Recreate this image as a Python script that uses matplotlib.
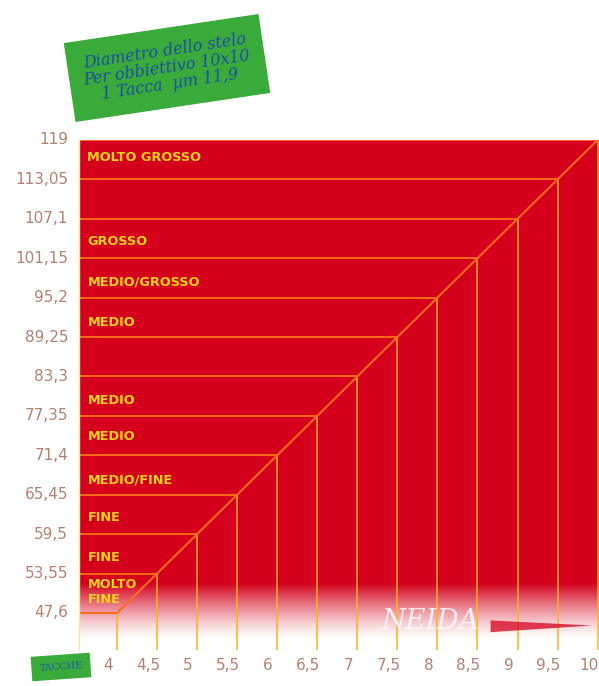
import numpy as np
import matplotlib
matplotlib.use("Agg")
import matplotlib.pyplot as plt
import matplotlib.transforms as mtransforms
from matplotlib.patches import Polygon

# ---- data ----
notches = [4, 4.5, 5, 5.5, 6, 6.5, 7, 7.5, 8, 8.5, 9, 9.5, 10]
notch_labels = ["4", "4,5", "5", "5,5", "6", "6,5", "7", "7,5", "8", "8,5", "9", "9,5", "10"]
microns_per_notch = 11.9
diam_values = [47.6, 53.55, 59.5, 65.45, 71.4, 77.35, 83.3, 89.25, 95.2, 101.15, 107.1, 113.05, 119]
diam_labels = ["47,6", "53,55", "59,5", "65,45", "71,4", "77,35", "83,3", "89,25", "95,2",
               "101,15", "107,1", "113,05", "119"]
class_names = ["MOLTO GROSSO", "GROSSO", "MEDIO/GROSSO", "MEDIO", "MEDIO", "MEDIO",
               "MEDIO/FINE", "FINE", "FINE", "MOLTO\nFINE"]
class_y = [116.3, 103.7, 97.6, 91.5, 79.6, 74.2, 67.6, 62.0, 55.9, 50.7]

# ---- style ----
RED = (0.835, 0.0, 0.11)
HLINE = "#ff6a1a"
VLINE = "#ffb21e"
LABEL_YEL = "#ffd21a"
TICK_COL = "#b5806f"

fig = plt.figure(figsize=(5.99, 6.86), dpi=100)
L, R, T, B = 79, 600, 140, 650
W, H = 599, 686
ax = fig.add_axes([L / W, 1 - B / H, (R - L) / W, (B - T) / H])

xmin, xmax = 3.525, 10.03
ymin, ymax = 42.0, 119.0
ax.set_xlim(xmin, xmax)
ax.set_ylim(ymin, ymax)

# background red with fade to white at the bottom
ny = 400
yy = np.linspace(ymin, ymax, ny)
alpha = np.clip((yy - 43.5) / (52.0 - 43.5), 0, 1) ** 1.3
img = np.zeros((ny, 2, 4))
img[..., 0] = RED[0]
img[..., 1] = RED[1]
img[..., 2] = RED[2]
img[..., 3] = alpha[:, None]
ax.imshow(img, extent=[xmin, xmax, ymin, ymax], origin="lower", aspect="auto",
          interpolation="bilinear", zorder=0)

# horizontal lines from left edge to diagonal
for v in diam_values:
    ax.plot([xmin, v / microns_per_notch], [v, v], color=HLINE, lw=1.4, zorder=2,
            solid_capstyle="butt")
# vertical lines from bottom to diagonal
for n in notches:
    ax.plot([n, n], [ymin, n * microns_per_notch], color=VLINE, lw=1.1, zorder=2,
            solid_capstyle="butt")
# diagonal
nx = np.array([notches[0], notches[-1]])
ax.plot(nx, nx * microns_per_notch, color=HLINE, lw=1.5, zorder=3)

# class labels
for name, yv in zip(class_names, class_y):
    ax.text(3.63, yv, name, color=LABEL_YEL, fontsize=9.3, fontweight="bold",
            va="center", ha="left", linespacing=1.2, zorder=4)

# axis ticks as text
ax.set_xticks([])
ax.set_yticks([])
for s in ["top", "right", "bottom"]:
    ax.spines[s].set_visible(False)
ax.spines["left"].set_color("#ffe9a0")
ax.spines["left"].set_linewidth(1.0)

ylab_tr = mtransforms.blended_transform_factory(fig.transFigure, ax.transData)
for v, lab in zip(diam_values, diam_labels):
    ax.text(68 / W, v, lab, transform=ylab_tr, ha="right", va="center",
            fontsize=11, color=TICK_COL)
xoff = mtransforms.ScaledTranslation(-9 / 100, 0, fig.dpi_scale_trans)
xlab_tr = mtransforms.blended_transform_factory(ax.transData, fig.transFigure) + xoff
for n, lab in zip(notches, notch_labels):
    ax.text(n, 1 - 665 / H, lab, transform=xlab_tr, ha="center", va="center",
            fontsize=11, color=TICK_COL)

# NEIDA watermark
ax.text(0.675, 0.055, "NEIDA", transform=ax.transAxes, fontsize=20, family="DejaVu Serif",
        style="italic", color="white", alpha=0.8, ha="center", va="center", zorder=5)
ax.add_patch(Polygon([[0.79, 0.035], [0.985, 0.048], [0.79, 0.058]], closed=True,
                     transform=ax.transAxes, facecolor=RED, alpha=0.75,
                     edgecolor="none", zorder=5))

# green title box
fig.text(167 / W, 1 - 68 / H, "Diametro dello stelo\nPer obbiettivo 10x10\n1 Tacca  µm 11,9",
         ha="center", va="center", rotation=8.5, fontsize=11.5, family="DejaVu Serif",
         style="italic", color="#1f4fa0", linespacing=1.0,
         bbox=dict(boxstyle="square,pad=0.9", facecolor="#3aaa3a", edgecolor="none"))

# small green box at bottom left
fig.text(61 / W, 1 - 667 / H, "TACCHE", ha="center", va="center", rotation=4,
         fontsize=7, family="DejaVu Serif", color="#1f5fa0",
         bbox=dict(boxstyle="square,pad=0.8", facecolor="#3aaa3a", edgecolor="none"))

fig.savefig("out.png", dpi=100, facecolor="white")
